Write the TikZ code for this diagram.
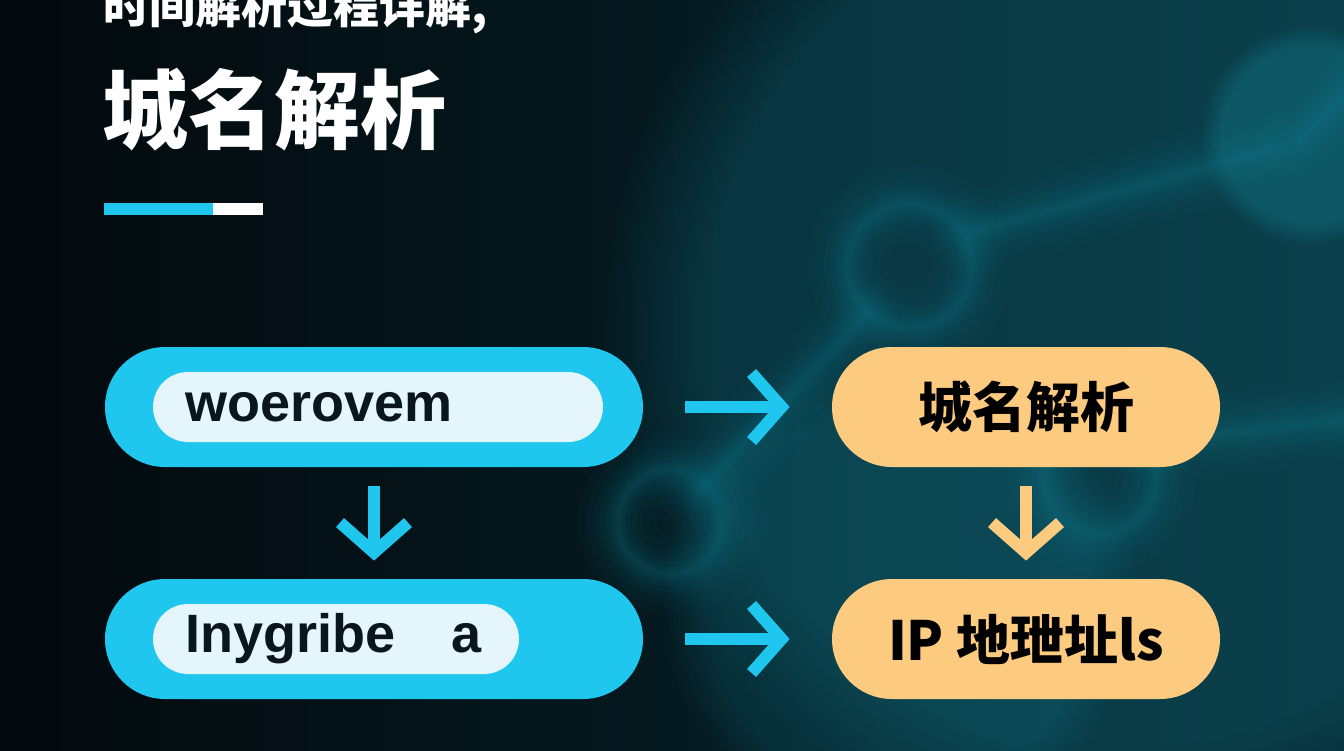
\documentclass[tikz,border=0pt]{standalone}
\usepackage{fontspec}
\setmainfont{Liberation Sans}
\newfontfamily\cjk{Noto Sans CJK SC}
\usetikzlibrary{arrows.meta, fadings}
\definecolor{bgdark}{HTML}{03090D}
\definecolor{bgteal}{HTML}{072A33}
\definecolor{glowteal}{HTML}{138397}
\definecolor{pillblue}{HTML}{1FC6EE}
\definecolor{pillpale}{HTML}{E4F6FB}
\definecolor{pillorange}{HTML}{FCCB80}
\definecolor{inkdark}{HTML}{0A161D}
\tikzstyle{bluepill} = [rectangle, rounded corners=30pt, minimum width=269pt, minimum height=60pt, fill=pillblue]
\tikzstyle{orangepill} = [rectangle, rounded corners=30pt, minimum width=194pt, minimum height=60pt, fill=pillorange, text=black, font=\cjk\bfseries\fontsize{27pt}{30pt}\selectfont]
\tikzstyle{inpill} = [rectangle, rounded corners=17.5pt, minimum height=35pt, inner xsep=16pt, fill=pillpale, text=inkdark, align=left, font=\fontsize{27pt}{30pt}\selectfont\bfseries]
\tikzstyle{arrow} = [line width=6pt, -{Straight Barb[length=15pt, width=34pt]}]
\tikzstyle{glow} = [glowteal, line cap=round]
\tikzstyle{blob} = [glowteal, path fading=circle with fuzzy edge 20 percent]

\begin{document}
\begin{tikzpicture}[x=0.5pt, y=-0.5pt, node distance=116pt]
		\useasboundingbox (0,0) rectangle (1344,750);
		\clip (0,0) rectangle (1344,750);
		% background
		\shade[left color=bgdark, right color=bgteal] (0,0) rectangle (1344,750);
		\fill[blob, opacity=0.25] (1120,330) circle[radius=260pt];
		\fill[blob, opacity=0.35] (1310,135) circle[radius=55pt];
		\fill[blob, opacity=0.2] (900,600) circle[radius=120pt];
		\foreach \w/\o in {40/0.03, 32/0.04, 24/0.05, 18/0.06, 12/0.07, 7/0.08, 3/0.08} {
			\draw[glow, line width=\w pt, opacity=\o] (910,266) circle[radius=31pt];
			\draw[glow, line width=\w pt, opacity=\o] (670,522) circle[radius=26pt];
			\draw[glow, line width=\w pt, opacity=\o] (1100,478) circle[radius=28pt];
			\draw[glow, line width=\w pt, opacity=\o] (972,232) -- (1270,150);
			\draw[glow, line width=\w pt, opacity=\o] (866,314) -- (700,490);
			\draw[glow, line width=\w pt, opacity=\o] (1160,440) -- (1344,420);
			\draw[glow, line width=\w pt, opacity=\o] (1360,80) -- (1300,140);
		}
		% titles
		\node (sub) [anchor=west, inner sep=0pt, text=white, font=\cjk\bfseries\fontsize{23pt}{25pt}\selectfont] at (103,9) {时间解析过程详解,};
		\node (title) [anchor=west, inner sep=0pt, text=white, font=\cjk\bfseries\fontsize{43pt}{46pt}\selectfont] at (102,110) {城名解析};
		\fill[pillblue] (104,203) rectangle (213,215);
		\fill[white] (213,203) rectangle (263,215);
		% flow
		\node (b1) [bluepill] at (374,407) {};
		\node (b2) [bluepill, below of = b1] {};
		\node (o1) [orangepill, right of = b1, xshift = 210pt] {城名解析};
		\node (o2) [orangepill, below of = o1] {IP 地玴址ls};
		\node (b1in) [inpill, anchor=west, text width=193pt] at ([xshift=24pt]b1.west) {woerovem};
		\node (b2in) [inpill, anchor=west, text width=151pt] at ([xshift=24pt]b2.west) {Inygribe\hspace{28pt}a};
		\draw [arrow, pillblue, shorten <=21pt, shorten >=21pt] (b1) -- (o1);
		\draw [arrow, pillblue, shorten <=21pt, shorten >=21pt] (b2) -- (o2);
		\draw [arrow, pillblue, shorten <=9.5pt, shorten >=9pt] (b1) -- (b2);
		\draw [arrow, pillorange, shorten <=9.5pt, shorten >=9pt] (o1) -- (o2);
	\end{tikzpicture}
\end{document}
